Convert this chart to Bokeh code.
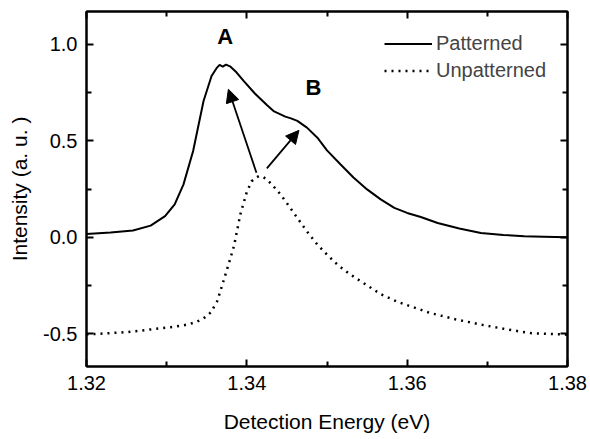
from bokeh.plotting import figure
from bokeh.models import (Range1d, LinearAxis, FixedTicker, PrintfTickFormatter, CustomJSTickFormatter,
                          Arrow, NormalHead, Label, Legend, LegendItem)
from bokeh.embed import file_html
from bokeh.resources import INLINE

# ---- data ----
patterned_x = [1.3200, 1.3230, 1.3258, 1.3280, 1.3298, 1.3310, 1.3321, 1.3333, 1.3346, 1.3356,
               1.3362, 1.3366, 1.3370, 1.3374, 1.3379, 1.3387, 1.3396, 1.3410, 1.3425, 1.3434,
               1.3448, 1.3455, 1.3463, 1.3475, 1.3488, 1.3500, 1.3517, 1.3533, 1.3550, 1.3567,
               1.3584, 1.3600, 1.3617, 1.3638, 1.3665, 1.3692, 1.3720, 1.3746, 1.3770, 1.3800]
patterned_y = [0.017, 0.025, 0.035, 0.060, 0.109, 0.170, 0.274, 0.447, 0.706, 0.836,
               0.875, 0.893, 0.884, 0.895, 0.886, 0.855, 0.810, 0.745, 0.685, 0.652,
               0.625, 0.616, 0.603, 0.568, 0.516, 0.450, 0.377, 0.310, 0.248, 0.196,
               0.152, 0.126, 0.105, 0.074, 0.045, 0.022, 0.012, 0.005, 0.003, 0.000]

unpatterned_x = [1.3200, 1.3250, 1.3280, 1.3305, 1.3326, 1.3338, 1.3346, 1.3355, 1.3363, 1.3371,
                 1.3378, 1.3384, 1.3392, 1.3400, 1.3406, 1.3411, 1.3415, 1.3420, 1.3425, 1.3433,
                 1.3442, 1.3452, 1.3463, 1.3475, 1.3488, 1.3500, 1.3513, 1.3527, 1.3542, 1.3567,
                 1.3588, 1.3629, 1.3660, 1.3692, 1.3725, 1.3754, 1.3800]
unpatterned_y = [-0.504, -0.492, -0.478, -0.466, -0.453, -0.437, -0.421, -0.390, -0.332, -0.225,
                 -0.130, -0.045, 0.120, 0.235, 0.290, 0.308, 0.317, 0.312, 0.300, 0.265,
                 0.222, 0.165, 0.100, 0.030, -0.038, -0.090, -0.142, -0.187, -0.228, -0.295,
                 -0.335, -0.393, -0.425, -0.453, -0.478, -0.497, -0.505]

series_names = ["Patterned", "Unpatterned"]
x_ticks = [1.32, 1.34, 1.36, 1.38]
x_minor_ticks = [1.33, 1.35, 1.37]
y_ticks = [-0.5, 0.0, 0.5, 1.0]
y_minor_ticks = [-0.25, 0.25, 0.75]
peak_labels = ["A", "B"]
peak_label_x = [1.3373, 1.3483]
peak_label_y = [1.038, 0.774]
arrow_x_start = [1.3412, 1.3425]
arrow_y_start = [0.334, 0.357]
arrow_x_end = [1.3377, 1.3465]
arrow_y_end = [0.767, 0.554]

FONT = "Liberation Sans"

p = figure(width=590, height=439, x_range=Range1d(1.32, 1.38), y_range=Range1d(-0.67, 1.17),
           output_backend="svg", toolbar_location=None,
           min_border_left=86, min_border_right=23, min_border_top=11, min_border_bottom=73)
p.title.visible = False
p.grid.visible = False
p.outline_line_color = "black"
p.outline_line_width = 2
p.background_fill_color = "white"
p.border_fill_color = "white"

xt = FixedTicker(ticks=x_ticks, minor_ticks=x_minor_ticks)
yt = FixedTicker(ticks=y_ticks, minor_ticks=y_minor_ticks)

p.xaxis.ticker = xt
p.yaxis.ticker = yt
p.xaxis.formatter = PrintfTickFormatter(format="%.2f")
p.yaxis.formatter = PrintfTickFormatter(format="%.1f")
p.xaxis.axis_label = "Detection Energy (eV)"
p.yaxis.axis_label = "Intensity (a. u. )"

for ax in [p.xaxis[0], p.yaxis[0]]:
    ax.axis_line_width = 2
    ax.major_tick_in = 7
    ax.major_tick_out = 0
    ax.minor_tick_in = 5
    ax.minor_tick_out = 0
    ax.major_tick_line_width = 2
    ax.minor_tick_line_width = 2
    ax.major_tick_line_color = "black"
    ax.minor_tick_line_color = "black"
    ax.major_label_text_font = FONT
    ax.major_label_text_font_size = "20px"
    ax.major_label_text_color = "black"
    ax.axis_label_text_font = FONT
    ax.axis_label_text_font_size = "21px"
    ax.axis_label_text_font_style = "normal"
    ax.axis_label_text_color = "black"
    ax.major_label_standoff = 9

p.xaxis[0].axis_label_standoff = 17
p.yaxis[0].axis_label_standoff = 9

for loc, tk in [("above", xt), ("right", yt)]:
    a = LinearAxis(ticker=tk, formatter=CustomJSTickFormatter(code="return ''"),
                   axis_line_width=2,
                   major_tick_in=7, major_tick_out=0, minor_tick_in=5, minor_tick_out=0,
                   major_tick_line_width=2, minor_tick_line_width=2, major_label_standoff=0)
    p.add_layout(a, loc)

r1 = p.line(patterned_x, patterned_y, line_color="black", line_width=2)
r2 = p.line(unpatterned_x, unpatterned_y, line_color="black", line_width=2.5, line_dash="2 5")

legend = Legend(items=[LegendItem(label=series_names[0], renderers=[r1]),
                       LegendItem(label=series_names[1], renderers=[r2])],
                location=(298, 282), border_line_color=None, background_fill_alpha=0,
                padding=0, margin=0, spacing=0, glyph_width=48, glyph_height=27,
                label_height=27, label_standoff=4,
                label_text_font=FONT, label_text_font_size="20px")
p.add_layout(legend)

for i in range(2):
    p.add_layout(Arrow(end=NormalHead(size=13, fill_color="black", line_color="black"),
                       x_start=arrow_x_start[i], y_start=arrow_y_start[i],
                       x_end=arrow_x_end[i], y_end=arrow_y_end[i],
                       line_width=1.8, line_color="black"))
    p.add_layout(Label(x=peak_label_x[i], y=peak_label_y[i], text=peak_labels[i],
                       text_font=FONT, text_font_size="22px", text_font_style="bold",
                       text_align="center", text_baseline="middle", text_color="black"))

open("out.html", "w").write(file_html(p, INLINE))
